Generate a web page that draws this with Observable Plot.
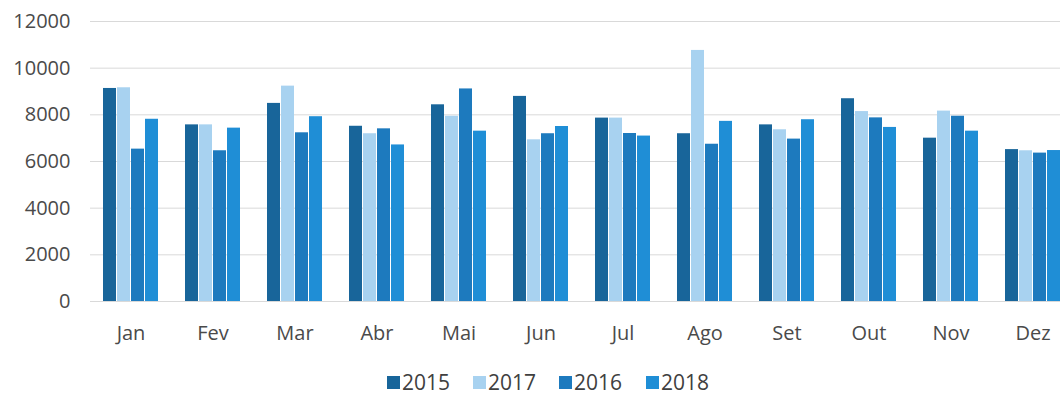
<!DOCTYPE html>
<html>
<head>
<meta charset="utf-8">
<script src="https://cdn.jsdelivr.net/npm/d3@7"></script>
<script src="https://cdn.jsdelivr.net/npm/@observablehq/plot@0.6"></script>
<style>
  html, body { margin: 0; padding: 0; background: #fff; overflow: hidden; }
  body { width: 1060px; height: 394px; font-family: "Open Sans", sans-serif; }
  #wrap { position: relative; width: 1060px; height: 355px; }
  #wrap svg { position: absolute; left: 0; top: 0; }
  #legend { position: relative; height: 39px; }
  .item { position: absolute; top: 16px; height: 22px; line-height: 22px; display: flex; align-items: center; font-size: 21px; color: #404040; }
  .sw { width: 13px; height: 13px; margin-right: 2px; }
</style>
</head>
<body>
<div id="wrap"></div>
<div id="legend"></div>
<script>
const months = ["Jan","Fev","Mar","Abr","Mai","Jun","Jul","Ago","Set","Out","Nov","Dez"];
const years = ["2015","2017","2016","2018"];
const colors = ["#18659a","#a8d2f0","#1d7abe","#1f8ed6"];
const v2015 = [9130,7570,8490,7510,8430,8790,7860,7190,7570,8690,7000,6510];
const v2017 = [9160,7570,9230,7190,7940,6930,7860,10760,7360,8140,8160,6460];
const v2016 = [6530,6460,7230,7400,9110,7190,7200,6740,6960,7870,7940,6360];
const v2018 = [7810,7430,7920,6710,7300,7500,7090,7720,7790,7460,7300,6470];
const yTicks = [0,2000,4000,6000,8000,10000,12000];

const seriesValues = {"2015": v2015, "2017": v2017, "2016": v2016, "2018": v2018};
const data = [];
months.forEach((m, i) => years.forEach(y => data.push({month: m, year: y, value: seriesValues[y][i]})));

const common = {
  width: 1060, height: 355,
  marginLeft: 90, marginRight: -14, marginTop: 21, marginBottom: 54,
  style: {fontFamily: "Open Sans, sans-serif", fontSize: "20px", color: "#4a4a4a", background: "transparent", overflow: "visible"}
};

const back = Plot.plot({
  ...common,
  y: {domain: [0, 12000], ticks: yTicks, tickSize: 0, tickPadding: 20, tickFormat: d => String(d), label: null},
  marks: [
    Plot.ruleY(yTicks, {stroke: "#d9d9d9", strokeWidth: 1})
  ]
});

const front = Plot.plot({
  ...common,
  fx: {domain: months, paddingInner: 0.3, paddingOuter: 0.15, axis: "bottom", tickSize: 0, tickPadding: 24, label: null},
  x: {domain: years, paddingInner: 0.1, paddingOuter: 0, axis: null},
  y: {domain: [0, 12000], axis: null},
  color: {domain: years, range: colors},
  marks: [
    Plot.barY(data, {fx: "month", x: "year", y: "value", fill: "year"})
  ]
});

const wrap = document.getElementById("wrap");
wrap.appendChild(back);
wrap.appendChild(front);

const legend = document.getElementById("legend");
const lefts = [387, 473, 559, 646];
years.forEach((y, i) => {
  const it = document.createElement("div");
  it.className = "item";
  it.style.left = lefts[i] + "px";
  const sw = document.createElement("span");
  sw.className = "sw";
  sw.style.background = colors[i];
  const t = document.createElement("span");
  t.textContent = y;
  it.appendChild(sw); it.appendChild(t);
  legend.appendChild(it);
});
</script>
</body>
</html>
